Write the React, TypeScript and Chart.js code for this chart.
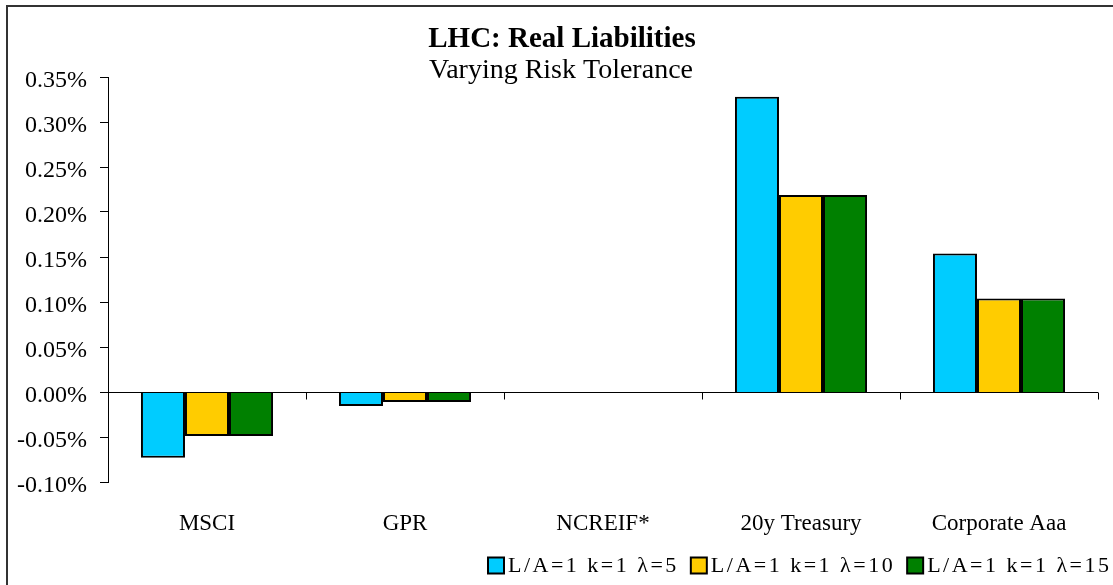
import React, { useEffect, useRef } from "react";
import { Chart, registerables } from "chart.js";

Chart.register(...registerables);

const categories = ["MSCI", "GPR", "NCREIF*", "20y Treasury", "Corporate Aaa"];
const seriesLabels = ["L/A=1 k=1 λ=5", "L/A=1 k=1 λ=10", "L/A=1 k=1 λ=15"];
const lambda5 = [-0.073, -0.0155, 0, 0.328, 0.154];
const lambda10 = [-0.049, -0.011, 0, 0.219, 0.104];
const lambda15 = [-0.049, -0.011, 0, 0.219, 0.104];
const seriesColors = ["#00CCFF", "#FFCC00", "#008000"];
const titleText = "LHC: Real Liabilities";
const subtitleText = "Varying Risk Tolerance";
const yMin = -0.1;
const yMax = 0.35;
const yStep = 0.05;

const FONT = "'Liberation Serif', 'Times New Roman', serif";

export default function App() {
  const ref = useRef<HTMLCanvasElement | null>(null);

  useEffect(() => {
    if (!ref.current) return;

    const framePlugin = {
      id: "frame",
      beforeDraw(chart: any) {
        const ctx = chart.ctx;
        ctx.save();
        ctx.fillStyle = "#fff";
        ctx.fillRect(0, 0, chart.width, chart.height);
        ctx.strokeStyle = "#333";
        ctx.lineWidth = 2;
        ctx.strokeRect(7, 6, chart.width + 20, chart.height + 20);
        ctx.restore();
      },
      afterDraw(chart: any) {
        const ctx = chart.ctx;
        ctx.save();
        ctx.fillStyle = "#000";
        ctx.textAlign = "center";
        ctx.textBaseline = "alphabetic";
        ctx.font = `bold 29px ${FONT}`;
        ctx.fillText(titleText, 562, 47);
        ctx.font = `28px ${FONT}`;
        ctx.fillText(subtitleText, 561, 78);

        // legend
        ctx.font = `22px ${FONT}`;
        (ctx as any).letterSpacing = "2.5px";
        ctx.textAlign = "left";
        ctx.textBaseline = "middle";
        const box = 16;
        const gapText = 4;
        const gapItem = 12;
        const items = chart.data.datasets.map((ds: any) => ({
          label: ds.label,
          color: ds.backgroundColor,
          w: ctx.measureText(ds.label).width,
        }));
        let total = 0;
        items.forEach((it: any, i: number) => {
          total += box + gapText + it.w + (i < items.length - 1 ? gapItem : 0);
        });
        let x = Math.round(1111 - total);
        const cy = 565.5;
        items.forEach((it: any) => {
          ctx.fillStyle = it.color;
          ctx.fillRect(x, cy - box / 2, box, box);
          ctx.strokeStyle = "#000";
          ctx.lineWidth = 2;
          ctx.strokeRect(x, cy - box / 2, box, box);
          ctx.fillStyle = "#000";
          ctx.fillText(it.label, x + box + gapText, cy + 1);
          x += box + gapText + it.w + gapItem;
        });
        ctx.restore();
      },
    };

    const zeroLinePlugin = {
      id: "zeroLine",
      afterDatasetsDraw(chart: any) {
        const ctx = chart.ctx;
        const xs = chart.scales.x;
        const ys = chart.scales.y;
        const y0 = Math.round(ys.getPixelForValue(0)) + 0.5;
        ctx.save();
        ctx.strokeStyle = "#000";
        ctx.lineWidth = 1;
        ctx.beginPath();
        ctx.moveTo(xs.left, y0);
        ctx.lineTo(xs.right, y0);
        const n = categories.length;
        const w = (xs.right - xs.left) / n;
        for (let i = 0; i <= n; i++) {
          const px = Math.round(xs.left + i * w) + 0.5;
          ctx.moveTo(px, y0);
          ctx.lineTo(px, y0 + 7);
        }
        ctx.stroke();
        ctx.restore();
      },
    };

    const chart = new Chart(ref.current, {
      type: "bar",
      data: {
        labels: categories,
        datasets: [lambda5, lambda10, lambda15].map((d, i) => ({
          label: seriesLabels[i],
          data: d,
          backgroundColor: seriesColors[i],
          borderColor: "#000",
          borderWidth: 2,
          categoryPercentage: 0.667,
          barPercentage: 1.0,
        })),
      },
      options: {
        animation: false,
        responsive: true,
        maintainAspectRatio: false,
        layout: { padding: { top: 77, right: 15, left: 0, bottom: 40 } },
        plugins: {
          legend: { display: false },
          tooltip: { enabled: false },
          title: { display: false },
        },
        scales: {
          x: {
            grid: { display: false },
            border: { display: false },
            ticks: {
              color: "#000",
              padding: 20,
              font: { family: FONT, size: 23 },
            },
            afterFit(scale: any) {
              scale.height = 63;
            },
          },
          y: {
            min: yMin,
            max: yMax,
            grid: {
              drawOnChartArea: false,
              drawTicks: true,
              tickLength: 8,
              color: "#000",
            },
            border: { display: true, color: "#000", width: 1 },
            ticks: {
              stepSize: yStep,
              color: "#000",
              padding: 13,
              labelOffset: 4,
              font: { family: FONT, size: 24 },
              callback: (v: any) => {
                const n = Number(v);
                return (Math.abs(n) < 1e-9 ? 0 : n).toFixed(2) + "%";
              },
            },
            afterFit(scale: any) {
              scale.width = 108;
            },
          },
        },
      },
      plugins: [framePlugin, zeroLinePlugin],
    });

    return () => chart.destroy();
  }, []);

  return (
    <div style={{ position: "fixed", left: 0, top: 0, width: 1113, height: 585 }}>
      <canvas ref={ref} />
    </div>
  );
}
